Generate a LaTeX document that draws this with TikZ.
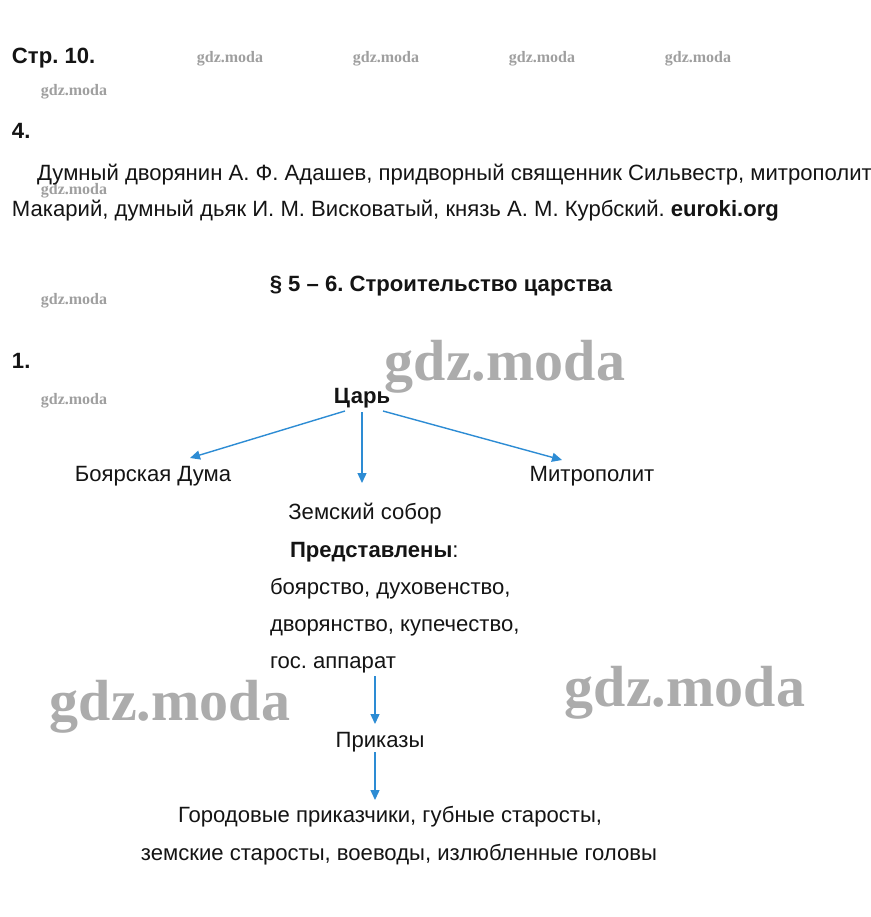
\documentclass[tikz,border=0pt]{standalone}
\usepackage{fontspec}
\setmainfont{Liberation Sans}
\newfontfamily\wmfont{Liberation Serif}
\usetikzlibrary{arrows.meta,calc}
\definecolor{arrblue}{RGB}{45,140,212}
\definecolor{txt}{RGB}{20,20,20}
\tikzset{
  txtnode/.style={inner sep=0pt,outer sep=0pt,text=txt,font=\fontsize{22.1}{26}\selectfont},
  bfn/.style={font=\bfseries\fontsize{22.1}{26}\selectfont},
  lefttxt/.style={txtnode,anchor=base west},
  midtxt/.style={txtnode,anchor=base},
  wmsmall/.style={inner sep=0pt,anchor=base,text=gray!75,font=\wmfont\bfseries\fontsize{16}{18}\selectfont},
  wmbig/.style={inner sep=0pt,anchor=base,text=gray!65,font=\wmfont\bfseries\fontsize{58}{60}\selectfont},
  arr/.style={draw=arrblue,line width=1.4pt,-{Triangle[length=10pt,width=9pt]}}
}
\begin{document}
\frenchspacing
\begin{tikzpicture}[x=1pt,y=-1pt]
\useasboundingbox[fill=white] (0,0) rectangle (870,917);
% watermarks
\node[wmsmall] (w1) at (230,63) {gdz.moda};
\node[wmsmall] (w2) at (386,63) {gdz.moda};
\node[wmsmall] (w3) at (542,63) {gdz.moda};
\node[wmsmall] (w4) at (698,63) {gdz.moda};
\node[wmsmall] (w5) at (74,96) {gdz.moda};
\node[wmsmall] (w6) at (74,195) {gdz.moda};
\node[wmsmall] (w7) at (74,304) {gdz.moda};
\node[wmsmall] (w8) at (74,404) {gdz.moda};
\node[wmbig] (W1) at (505,380) {gdz.moda};
\node[wmbig] (W2) at (170,720) {gdz.moda};
\node[wmbig] (W3) at (685,706) {gdz.moda};
% header text
\node[lefttxt,bfn] (page) at (12,64) {Стр. 10.};
\node[lefttxt,bfn] (n4) at (12,139) {4.};
\node[lefttxt] (p1) at (37,181) {Думный дворянин А. Ф. Адашев, придворный священник Сильвестр, митрополит};
\node[lefttxt] (p2) at (12,217) {Макарий, думный дьяк И. М. Висковатый, князь А. М. Курбский. \textbf{euroki.org}};
\node[midtxt,bfn] (head) at (441,291) {§ 5 – 6. Строительство царства};
\node[lefttxt,bfn] (n1) at (12,368) {1.};
% diagram
\node[midtxt,bfn] (tsar) at (362,403) {Царь};
\node[midtxt] (duma) at (153,481) {Боярская Дума};
\node[midtxt] (metro) at (592,481) {Митрополит};
\node[midtxt] (zemsky) at (365,519) {Земский собор};
\node[lefttxt] (pred) at (290,557) {\textbf{Представлены}:};
\node[lefttxt] (l1) at (270,594) {боярство, духовенство,};
\node[lefttxt] (l2) at (270,631) {дворянство, купечество,};
\node[lefttxt] (gos) at (270,668) {гос. аппарат};
\node[midtxt] (prikazy) at (380,747) {Приказы};
\node[midtxt] (gorod) at (390,822) {Городовые приказчики, губные старосты,};
\node[midtxt] (zemst) at (399,860) {земские старосты, воеводы, излюбленные головы};
% arrows
\draw[arr] ($(tsar.base)+(-17,8)$) -- ($(duma.base)+(37,-23)$);
\draw[arr] ($(tsar.base)+(0,9)$) -- ($(tsar.base |- zemsky.base)+(0,-36)$);
\draw[arr] ($(tsar.base)+(21,8)$) -- ($(metro.base)+(-30,-21)$);
\draw[arr] ($(prikazy.base)+(-5,-71)$) -- ($(prikazy.base)+(-5,-23)$);
\draw[arr] ($(prikazy.base)+(-5,5)$) -- ($(gorod.base)+(-15,-22)$);
\end{tikzpicture}
\end{document}
